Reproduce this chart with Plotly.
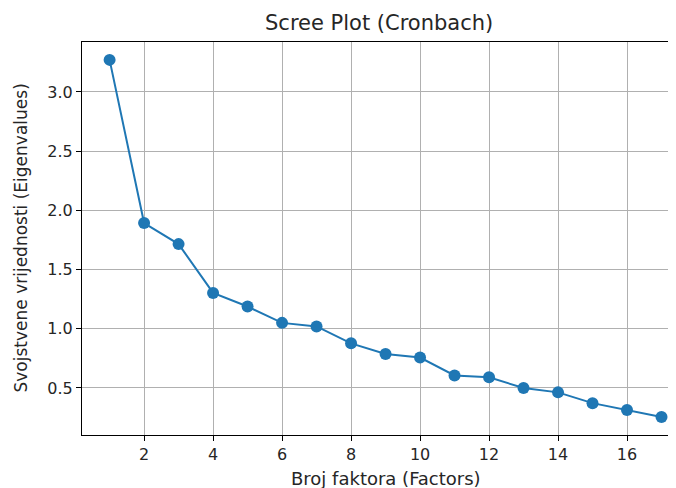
import plotly.graph_objects as go

factors = list(range(1, 18))
eigenvalues = [3.271, 1.893, 1.715, 1.303, 1.188, 1.050, 1.020, 0.877,
               0.787, 0.757, 0.606, 0.590, 0.500, 0.463, 0.372, 0.315, 0.255]
x_ticks = [2, 4, 6, 8, 10, 12, 14, 16]
y_ticks = [0.5, 1.0, 1.5, 2.0, 2.5, 3.0]

title_text = "Scree Plot (Cronbach)"
x_label = "Broj faktora (Factors)"
y_label = "Svojstvene vrijednosti (Eigenvalues)"

font = "DejaVu Sans"
blue = "#1f77b4"
txt = "#262626"

fig = go.Figure()
fig.add_trace(go.Scatter(
    x=factors, y=eigenvalues, mode="lines+markers",
    line=dict(color=blue, width=2),
    marker=dict(color=blue, size=12),
    showlegend=False, hoverinfo="skip",
))

# page body adds an 8px margin; the figure is sized to fit the window
fig.update_layout(
    width=668, height=480,
    margin=dict(l=74, r=0, t=34, b=53),
    paper_bgcolor="white", plot_bgcolor="white",
    font=dict(family=font, size=17, color=txt),
    xaxis=dict(
        range=[0.2, 17.42], tickvals=x_ticks,
        showgrid=True, gridcolor="#b0b0b0", gridwidth=1,
        showline=True, linecolor="black", linewidth=1, mirror=True,
        ticks="outside", ticklen=5, tickcolor="black", tickwidth=1,
        zeroline=False, tickfont=dict(size=16, color=txt),
    ),
    yaxis=dict(
        range=[0.103, 3.422], tickvals=y_ticks,
        ticktext=[f"{v:.1f}" for v in y_ticks],
        showgrid=True, gridcolor="#b0b0b0", gridwidth=1,
        showline=True, linecolor="black", linewidth=1, mirror=False,
        ticks="outside", ticklen=5, tickcolor="black", tickwidth=1,
        zeroline=False, tickfont=dict(size=16, color=txt),
    ),
    annotations=[
        dict(text=title_text, xref="x", x=8.8, yref="paper", y=1,
             yshift=19, showarrow=False, xanchor="center", yanchor="middle",
             font=dict(size=21, color=txt)),
        dict(text=x_label, xref="x", x=9.0, yref="paper", y=0,
             yshift=-43, showarrow=False, xanchor="center", yanchor="middle",
             font=dict(size=18, color=txt)),
        dict(text=y_label, xref="paper", x=0, yref="paper", y=0.5,
             xshift=-62, showarrow=False, textangle=-90,
             xanchor="center", yanchor="middle",
             font=dict(size=17, color=txt)),
    ],
)

fig.write_html("out.html")
